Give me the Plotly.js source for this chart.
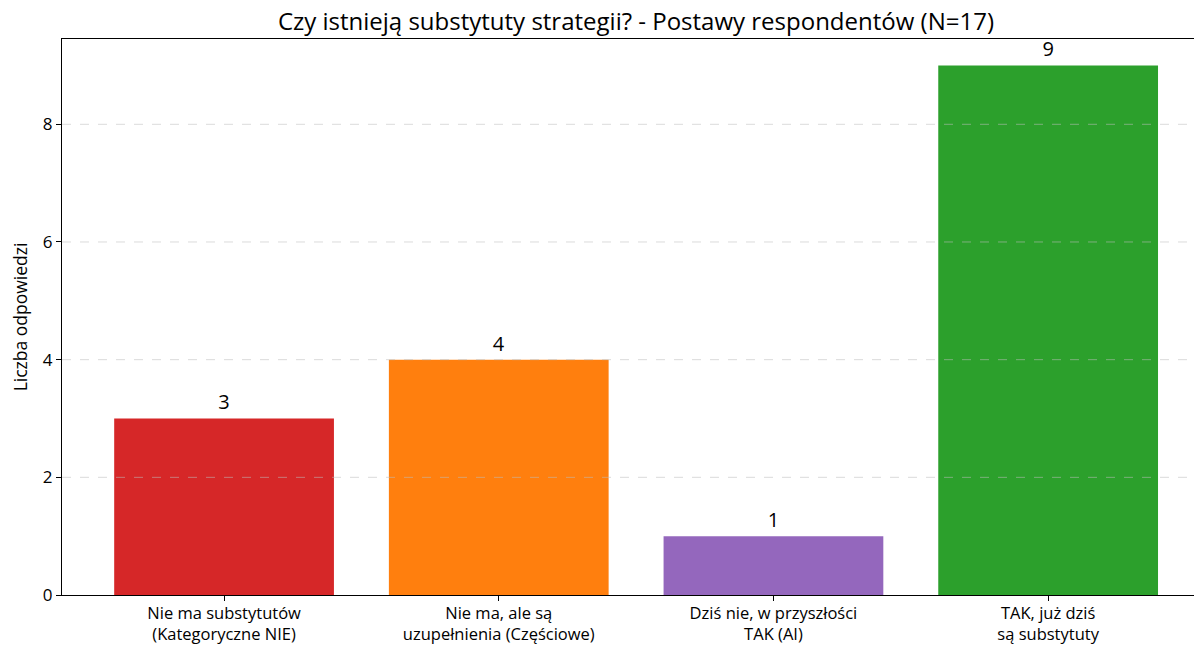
<!DOCTYPE html>
<html>
<head>
<meta charset="utf-8">
<script src="https://cdn.plot.ly/plotly-3.0.1.min.js"></script>
<style>html,body{margin:0;padding:0;background:#fff;}#chart{width:1194px;height:645px;}</style>
</head>
<body>
<div id="chart"></div>
<script>
const categories = [
  "Nie ma substytutów<br>(Kategoryczne NIE)",
  "Nie ma, ale są<br>uzupełnienia (Częściowe)",
  "Dziś nie, w przyszłości<br>TAK (AI)",
  "TAK, już dziś<br>są substytuty"
];
const counts = [3, 4, 1, 9];
const barColors = ["#d62728", "#ff7f0e", "#9467bd", "#2ca02c"];
const yTicks = [0, 2, 4, 6, 8];
const titleText = "Czy istnieją substytuty strategii? - Postawy respondentów (N=17)";
const yTitle = "Liczba odpowiedzi";

const FONT = "'Open Sans', Roboto, sans-serif";
const xIdx = categories.map((_, i) => i);

const trace = {
  type: "bar",
  x: xIdx,
  y: counts,
  width: 0.8,
  marker: {color: barColors, line: {width: 0}},
  text: counts.map(String),
  textposition: "outside",
  cliponaxis: false,
  textfont: {family: FONT, size: 20, color: "#000"},
  hoverinfo: "none"
};

const gridShapes = yTicks.filter(v => v > 0).map(v => ({
  type: "line", xref: "paper", x0: 0, x1: 1, yref: "y", y0: v, y1: v,
  layer: "above", line: {color: "rgba(190,190,190,0.55)", width: 1, dash: "dash"}
}));

const layout = {
  width: 1194, height: 645,
  margin: {l: 62, r: 0, t: 39, b: 50, pad: 0},
  paper_bgcolor: "#fff", plot_bgcolor: "#fff",
  font: {family: FONT, color: "#000", size: 16},
  showlegend: false,
  title: {text: titleText, font: {family: FONT, size: 24, color: "#000"},
          x: 0.507, xref: "paper", xanchor: "center", y: 0.966, yanchor: "middle"},
  xaxis: {
    range: [-0.59, 3.531], tickmode: "array", tickvals: xIdx, ticktext: categories,
    showline: true, mirror: true, linecolor: "#000", linewidth: 1,
    ticks: "outside", ticklen: 5, tickcolor: "#000", tickwidth: 1,
    showgrid: false, zeroline: false, automargin: false,
    ticklabelstandoff: -2,
    tickfont: {family: FONT, size: 16.5, color: "#000"}
  },
  yaxis: {
    range: [0, 9.45], tickmode: "array", tickvals: yTicks,
    showline: true, linecolor: "#000", linewidth: 1,
    ticks: "outside", ticklen: 5, tickcolor: "#000", tickwidth: 1,
    showgrid: false, zeroline: false, automargin: false,
    tickfont: {family: FONT, size: 17, color: "#000"},
    title: {text: yTitle, font: {family: FONT, size: 17.5, color: "#000"}, standoff: 10}
  },
  shapes: gridShapes
};

Plotly.newPlot("chart", [trace], layout, {displayModeBar: false, staticPlot: true});
</script>
</body>
</html>
